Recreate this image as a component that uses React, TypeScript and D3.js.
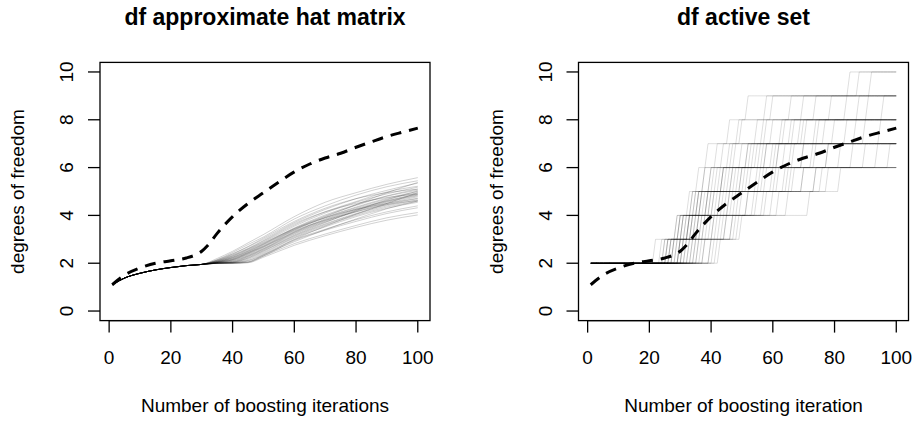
import React from "react";
import * as d3 from "d3";

const W = 916;
const H = 423;
const FONT = "'Liberation Sans', Arial, Helvetica, sans-serif";

// dashed curve, drawn in both panels
const dfIters = [1, 5, 10, 15, 20, 25, 28, 30, 32, 35, 40, 45, 50, 55, 60, 65, 70, 75, 80, 85, 90, 95, 100];
const dfValues = [1.1, 1.5, 1.8, 2.0, 2.1, 2.22, 2.35, 2.5, 2.75, 3.25, 3.95, 4.5, 4.95, 5.4, 5.82, 6.15, 6.4, 6.6, 6.85, 7.08, 7.3, 7.48, 7.65];

// df approximate hat matrix: every run shares the start, then spreads out
const hatStartIters = [1, 5, 10, 15, 20, 25, 30];
const hatStartValues = [1.1, 1.38, 1.58, 1.72, 1.82, 1.9, 1.95];
const hatIters = [35, 40, 45, 50, 60, 70, 80, 90, 100];
const hatRuns = [
  [2.20, 2.50, 2.85, 3.20, 3.95, 4.55, 4.95, 5.30, 5.58],
  [2.15, 2.45, 2.78, 3.10, 3.85, 4.40, 4.85, 5.20, 5.45],
  [2.14, 2.40, 2.70, 3.05, 3.75, 4.30, 4.70, 4.95, 5.10],
  [2.12, 2.38, 2.68, 3.00, 3.70, 4.25, 4.70, 5.05, 5.35],
  [2.10, 2.35, 2.62, 2.95, 3.65, 4.15, 4.50, 4.75, 4.90],
  [2.10, 2.32, 2.60, 2.92, 3.60, 4.15, 4.58, 4.98, 5.22],
  [2.08, 2.30, 2.58, 2.88, 3.55, 4.10, 4.55, 4.90, 5.18],
  [2.08, 2.28, 2.55, 2.85, 3.45, 3.95, 4.45, 4.95, 5.38],
  [2.06, 2.25, 2.52, 2.82, 3.48, 4.02, 4.45, 4.82, 5.10],
  [2.06, 2.24, 2.50, 2.80, 3.45, 3.98, 4.42, 4.80, 5.05],
  [2.05, 2.22, 2.48, 2.78, 3.42, 3.90, 4.25, 4.50, 4.72],
  [2.05, 2.20, 2.45, 2.75, 3.40, 3.92, 4.35, 4.72, 5.00],
  [2.04, 2.18, 2.44, 2.72, 3.38, 3.90, 4.32, 4.68, 4.95],
  [2.04, 2.16, 2.42, 2.70, 3.35, 3.80, 4.15, 4.45, 4.62],
  [2.03, 2.15, 2.40, 2.68, 3.32, 3.85, 4.28, 4.62, 4.90],
  [2.03, 2.14, 2.38, 2.66, 3.30, 3.82, 4.25, 4.60, 4.88],
  [2.02, 2.12, 2.35, 2.62, 3.28, 3.78, 4.22, 4.58, 4.85],
  [2.02, 2.10, 2.32, 2.60, 3.25, 3.75, 4.18, 4.55, 4.82],
  [2.01, 2.08, 2.30, 2.58, 3.22, 3.72, 4.15, 4.50, 4.78],
  [2.01, 2.06, 2.28, 2.55, 3.18, 3.70, 4.20, 4.65, 5.02],
  [2.01, 2.05, 2.25, 2.52, 3.15, 3.65, 4.08, 4.45, 4.70],
  [2.00, 2.04, 2.22, 2.50, 3.12, 3.62, 4.05, 4.40, 4.65],
  [2.00, 2.03, 2.20, 2.46, 3.08, 3.58, 4.00, 4.35, 4.60],
  [2.00, 2.02, 2.16, 2.42, 3.05, 3.52, 3.95, 4.30, 4.55],
  [2.00, 2.02, 2.12, 2.38, 3.00, 3.55, 4.05, 4.50, 4.95],
  [2.00, 2.01, 2.10, 2.34, 2.98, 3.42, 3.82, 4.15, 4.40],
  [2.00, 2.01, 2.06, 2.30, 2.95, 3.38, 3.75, 4.08, 4.32],
  [2.00, 2.00, 2.05, 2.35, 2.90, 3.40, 3.85, 4.28, 4.60],
  [2.00, 2.00, 2.03, 2.30, 2.82, 3.22, 3.58, 3.90, 4.12],
  [2.00, 2.00, 2.02, 2.25, 2.75, 3.15, 3.50, 3.80, 4.02],
];

// df active set: runs start with 2 variables; iterations where one more enters
const activeStart = 2;
const activeJumps = [
  [22, 29, 33, 36, 39, 46, 52, 85],
  [25, 30, 34, 38, 44, 50, 60, 88],
  [26, 31, 35, 40, 46, 55, 66, 92],
  [24, 29, 34, 38, 42, 49, 58],
  [26, 30, 35, 41, 47, 57, 70],
  [27, 32, 36, 42, 50, 60, 74],
  [28, 33, 38, 44, 53, 63, 79],
  [29, 33, 37, 45, 55, 66, 84],
  [27, 34, 39, 47, 58, 70, 88],
  [30, 35, 40, 48, 56, 69, 91],
  [31, 36, 41, 50, 61, 75, 96],
  [25, 30, 36, 40, 48, 58],
  [27, 31, 37, 43, 52, 64],
  [28, 32, 36, 44, 54, 67],
  [29, 34, 39, 46, 57, 71],
  [30, 33, 40, 49, 60, 74],
  [30, 35, 42, 51, 62, 77],
  [31, 36, 43, 52, 64, 80],
  [32, 37, 44, 55, 67, 84],
  [33, 38, 46, 57, 70, 87],
  [34, 39, 47, 60, 73, 90],
  [35, 41, 49, 62, 78, 95],
  [26, 31, 37, 44, 52],
  [28, 33, 39, 47, 58],
  [30, 34, 41, 50, 62],
  [31, 36, 43, 53, 66],
  [32, 37, 45, 56, 70],
  [33, 38, 46, 58, 74],
  [34, 40, 48, 61, 78],
  [35, 41, 50, 64, 82],
  [36, 43, 52, 67, 86],
  [38, 45, 55, 70, 90],
  [40, 47, 58, 74, 94],
  [37, 44, 54, 66, 98],
  [36, 42, 52, 65],
  [38, 45, 57, 70],
  [40, 47, 60, 74],
  [42, 49, 65, 78],
  [43, 50, 72, 82],
  [41, 48, 62, 76],
];

const xTicks = [0, 20, 40, 60, 80, 100];
const yTicks = [0, 2, 4, 6, 8, 10];

function Panel(props: any) {
  const { x0, title, xlab, runs, curve, runColor } = props;
  const box = { l: x0, r: x0 + 330, t: 62.4, b: 320.6 };
  const x = d3.scaleLinear().domain([1 - 0.04 * 99, 100 + 0.04 * 99]).range([box.l, box.r]);
  const y = d3.scaleLinear().domain([-0.4, 10.4]).range([box.b, box.t]);
  const line = d3.line<number[]>().x(d => x(d[0])).y(d => y(d[1])).curve(curve);
  const dfLine = d3.line<number>().x(d => x(d)).y((d, i) => y(dfValues[i])).curve(d3.curveMonotoneX);
  const cx = (box.l + box.r) / 2;
  const cy = (box.t + box.b) / 2;

  return (
    <g>
      <text x={cx} y={25} textAnchor="middle" fontSize={23} fontWeight="bold">{title}</text>
      <g>
        {runs.map((r: number[][], i: number) => (
          <path key={i} d={line(r) || ""} fill="none" stroke={runColor} strokeWidth={1} />
        ))}
      </g>
      <path d={dfLine(dfIters) || ""} fill="none" stroke="#000" strokeWidth={3} strokeDasharray="11,8" />
      <rect x={box.l} y={box.t} width={box.r - box.l} height={box.b - box.t} fill="none" stroke="#000" strokeWidth={1.3} />
      {/* x axis */}
      <line x1={x(0)} x2={x(100)} y1={box.b} y2={box.b} stroke="#000" strokeWidth={1.3} />
      {xTicks.map(t => (
        <g key={t}>
          <line x1={x(t)} x2={x(t)} y1={box.b} y2={box.b + 12} stroke="#000" strokeWidth={1.3} />
          <text x={x(t)} y={364} textAnchor="middle" fontSize={19}>{t}</text>
        </g>
      ))}
      <text x={cx} y={412} textAnchor="middle" fontSize={19}>{xlab}</text>
      {/* y axis */}
      {yTicks.map(t => (
        <g key={t}>
          <line x1={box.l} x2={box.l - 12} y1={y(t)} y2={y(t)} stroke="#000" strokeWidth={1.3} />
          <text transform={`translate(${box.l - 27},${y(t)}) rotate(-90)`} textAnchor="middle" fontSize={19}>{t}</text>
        </g>
      ))}
      <text transform={`translate(${box.l - 76},${cy}) rotate(-90)`} textAnchor="middle" fontSize={19}>degrees of freedom</text>
    </g>
  );
}

export default function App() {
  const hatPoints = hatRuns.map(r =>
    [...hatStartIters, ...hatIters].map((it, i) => [it, [...hatStartValues, ...r][i]])
  );
  const iters = d3.range(1, 101);
  const activePoints = activeJumps.map(j =>
    iters.map(it => [it, activeStart + j.filter(k => k <= it).length])
  );

  return (
    <svg width={W} height={H} style={{ position: "absolute", left: 0, top: 0, background: "#fff" }} fontFamily={FONT}>
      <rect width={W} height={H} fill="#fff" />
      <Panel x0={100} title="df approximate hat matrix" xlab="Number of boosting iterations" runs={hatPoints} curve={d3.curveMonotoneX} runColor="rgba(0,0,0,0.18)" />
      <Panel x0={578.5} title="df active set" xlab="Number of boosting iteration" runs={activePoints} curve={d3.curveLinear} runColor="rgba(0,0,0,0.13)" />
    </svg>
  );
}
